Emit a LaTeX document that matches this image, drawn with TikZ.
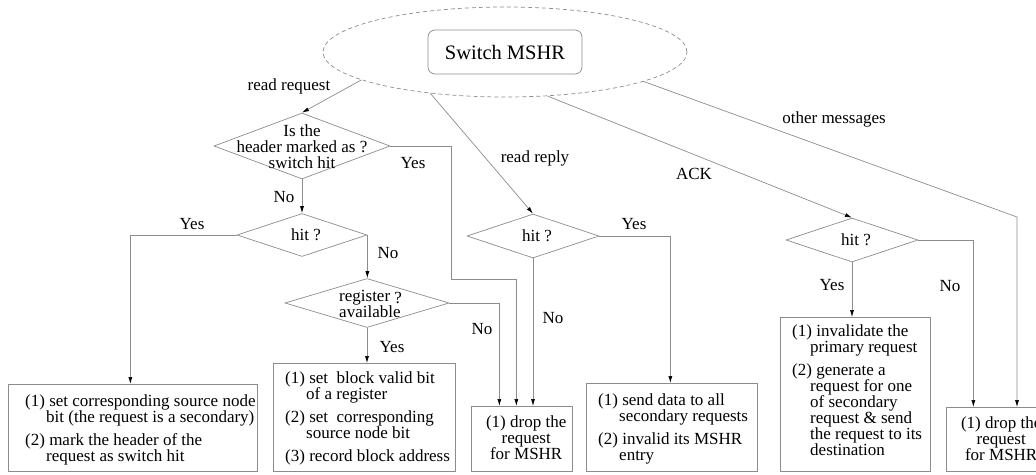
\documentclass[tikz,border=0pt]{standalone}
\usepackage{fontspec}
\setmainfont{Liberation Serif}
\usetikzlibrary{shapes.geometric,arrows.meta}
\definecolor{lc}{gray}{0.55}
\newcommand{\txtblock}[1]{\parbox[t]{300pt}{\raggedright #1}}
\newcommand{\ctrblock}[1]{\parbox[t]{101pt}{\centering #1}}
\begin{document}
\begin{tikzpicture}[x=1pt,y=-1pt,
  font=\fontsize{17}{16}\selectfont,
  ln/.style={draw=lc,line width=0.7pt},
  arr/.style={ln,-{Latex[black,length=7pt,width=4pt]}},
  dia/.style={diamond,draw=lc,line width=0.7pt,inner sep=0pt,minimum width=132pt,minimum height=44pt},
  boxnode/.style={rectangle,draw=lc,line width=0.7pt,anchor=north west,inner sep=0pt},
  lbl/.style={inner sep=0pt},
  txt/.style={inner sep=0pt,anchor=base west}
]
\useasboundingbox (0,0) rectangle (1036,474);
\clip (0,0) rectangle (1036,474);

% top
\node[ellipse,draw=lc,line width=0.7pt,dash pattern=on 4pt off 3pt,minimum width=364pt,minimum height=90pt,inner sep=0pt] (ell) at (505,52) {};
\node[draw=lc,line width=0.7pt,rounded corners=7pt,minimum width=154pt,minimum height=44pt,inner sep=0pt,font=\fontsize{20.5}{22}\selectfont] (title) at (505,52) {Switch MSHR};

% diamonds
\node[dia,minimum width=176pt,minimum height=66pt] (d1) at (302,146) {};
\node[lbl,align=center] (t1) at (302,147) {Is the\\header marked as ?\\switch hit};
\node[dia,minimum width=130pt,minimum height=43pt] (d2) at (302,235) {};
\node[lbl] (t2) at ([xshift=4pt]d2.center) {hit ?};
\node[dia,minimum width=164pt,minimum height=49pt] (d3) at (367,303) {};
\node[lbl,align=left,anchor=west] (t3) at (339,304) {register \raisebox{-1.5pt}{?}\\available};
\node[dia] (d5) at (533,236) {};
\node[lbl] (t5) at ([xshift=4pt]d5.center) {hit ?};
\node[dia] (d4) at (852,240) {};
\node[lbl] (t4) at ([xshift=4pt]d4.center) {hit ?};

% boxes
\node[boxnode,minimum width=249pt,minimum height=87pt] (b1) at (8,384) {};
\node[txt] (tb1) at (25,406) {\txtblock{(1) set corresponding source node\\\hspace*{21pt}bit (the request is a secondary)\\[7pt](2) mark the header of the\\\hspace*{21pt}request as switch hit}};
\node[boxnode,minimum width=182pt,minimum height=108pt] (b2) at (273,363) {};
\node[txt] (tb2) at (285,383.5) {\txtblock{(1) set\ \ block valid bit\\\hspace*{21pt}of a register\\[7pt](2) set\ \ corresponding\\\hspace*{21pt}source node bit\\[7pt](3) record block address}};
\node[boxnode,minimum width=101pt,minimum height=65pt] (drop1) at (471,406) {};
\node[txt] (tdr1) at (475.5,427.5) {\ctrblock{(1) drop the\\request\\for MSHR}};
\node[boxnode,minimum width=171pt,minimum height=88pt] (send) at (586,383) {};
\node[txt] (tsend) at (598,405.5) {\txtblock{(1) send data to all\\\hspace*{21pt}secondary requests\\[7pt](2) invalid its MSHR\\\hspace*{21pt}entry}};
\node[boxnode,minimum width=150pt,minimum height=154pt] (inval) at (780,317) {};
\node[txt] (tinval) at (792,336.5) {\txtblock{(1) invalidate the\\\hspace*{18pt}primary request\\[7pt](2) generate a\\\hspace*{18pt}request for one\\\hspace*{18pt}of secondary\\\hspace*{18pt}request \& send\\\hspace*{18pt}the request to its\\\hspace*{18pt}destination}};
\node[boxnode,minimum width=101pt,minimum height=64pt] (drop2) at (946,407) {};
\node[txt] (tdr2) at (950.5,428) {\ctrblock{(1) drop the\\request\\for MSHR}};

% connectors
\coordinate (c1) at (451,279);
\coordinate (om) at (1017,217);
\draw[arr] (ell.191) -- (d1.north);
\draw[arr] (d1.south) -- (d2.north);
\draw[arr] (d1.east) -| (c1) -| ([xshift=-5.5pt]drop1.north);
\draw[arr] (d2.west) -| ([xshift=-2.5pt]b1.north);
\draw[arr] (d2.east) -- (d2.east |- d3.north);
\draw[arr] (d3.east) -| ([xshift=-22.5pt]drop1.north);
\draw[arr] (d3.south) -- (d3.south |- b2.north);
\draw[arr] (ell.209) -- (d5.north);
\draw[arr] (d5.east) -| ([xshift=-1.5pt]send.north);
\draw[arr] (d5.south) -- (d5.south |- drop1.north);
\draw[arr] (ell.314) -- (d4.north);
\draw[arr] (d4.south) -- (d4.south |- inval.north);
\draw[arr] (d4.east) -| ([xshift=-23.5pt]drop2.north);
\draw[arr] (ell.348) -- (om) -- (om |- drop2.north);

% labels
\node[lbl] (lrr) at (289,86) {read request};
\node[lbl] (ly1) at (413,163) {Yes};
\node[lbl] (ln1) at (284,197) {No};
\node[lbl] (ly2) at (192,224) {Yes};
\node[lbl] (ln2) at (388,253) {No};
\node[lbl] (ln3) at (482,329) {No};
\node[lbl] (ly3) at (392,347) {Yes};
\node[lbl] (lrp) at (535,158) {read reply};
\node[lbl] (ly5) at (634,224) {Yes};
\node[lbl] (ln5) at (553,318) {No};
\node[lbl] (lack) at (694,174) {ACK};
\node[lbl] (lom) at (834,119) {other messages};
\node[lbl] (ly4) at (832,285) {Yes};
\node[lbl] (ln4) at (950,286) {No};
\end{tikzpicture}
\end{document}
